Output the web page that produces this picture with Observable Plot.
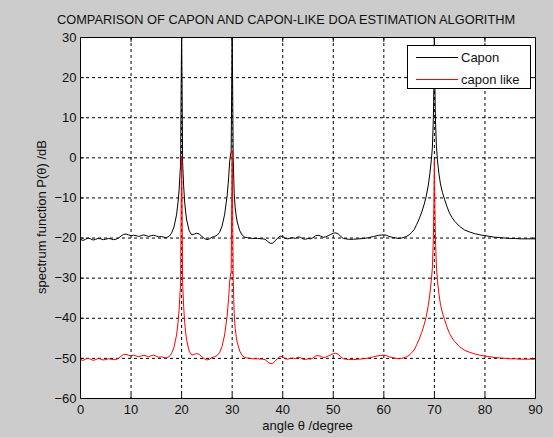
<!DOCTYPE html>
<html><head><meta charset="utf-8">
<script src="https://cdn.jsdelivr.net/npm/d3@7"></script>
<script src="https://cdn.jsdelivr.net/npm/@observablehq/plot@0.6"></script>
<style>
html,body{margin:0;padding:0;background:#cccccc;}
#wrap{position:relative;width:553px;height:437px;overflow:hidden;font-family:"Liberation Sans",Arial,Helvetica,sans-serif;color:#111;}
#chart{position:absolute;left:0;top:0;}
#title{position:absolute;left:57px;top:12px;font-size:12.8px;white-space:nowrap;}
#xlabel{position:absolute;left:80px;width:455px;top:418px;text-align:center;font-size:13px;white-space:nowrap;}
#ylabel{position:absolute;left:41px;top:217px;font-size:13px;white-space:nowrap;transform:translate(-50%,-50%) rotate(-90deg);}
#legend{position:absolute;left:407px;top:45px;width:124px;height:44px;background:#fff;border:1px solid #000;box-sizing:border-box;font-size:13px;}
.li{position:absolute;left:0;height:15px;line-height:15px;}
.li span.sw{position:absolute;left:8px;top:7px;width:42px;height:0;border-top:1px solid;}
.li span.tx{position:absolute;left:53px;top:0;white-space:nowrap;}
</style>
</head><body>
<div id="wrap">
<div id="chart"></div>
<div id="title">COMPARISON OF CAPON AND CAPON-LIKE DOA ESTIMATION ALGORITHM</div>
<div id="xlabel">angle θ /degree</div>
<div id="ylabel">spectrum function P(θ) /dB</div>
<div id="legend"></div>
</div>
<script>
const xTicks = [0,10,20,30,40,50,60,70,80,90];
const yTicks = [-60,-50,-40,-30,-20,-10,0,10,20,30];
const seriesNames = ["Capon","capon like"];
const seriesColors = ["#000000","#ff0000"];

const angles = [0,0.5,1,1.5,2,2.5,3,3.5,4,4.5,5,5.5,6,6.5,7,7.5,8,8.5,9,9.5,10,10.5,11,11.5,12,12.5,13,13.5,14,14.5,15,15.5,16,16.5,17,17.5,18,18.5,19,19.3,19.5,19.7,19.8,19.9,20,20.1,20.2,20.4,20.6,20.8,21,21.5,22,22.5,23,23.5,24,24.5,25,25.5,26,26.5,27,27.5,28,28.5,29,29.3,29.5,29.7,29.8,29.9,30,30.1,30.2,30.4,30.6,30.8,31,31.5,32,32.5,33,33.5,34,35,36,36.5,37,37.5,38,38.5,39,39.5,40,40.5,41,41.5,42,42.5,43,43.5,44,44.5,45,45.5,46,46.5,47,47.5,48,48.5,49,49.5,50,50.5,51,51.5,52,53,54,55,56,57,58,59,60,60.5,61,62,63,63.5,64,64.5,65,65.5,66,66.5,67,67.5,68,68.4,68.8,69.1,69.4,69.6,69.8,69.9,70,70.1,70.2,70.4,70.6,70.9,71.2,71.6,72,72.5,73,73.5,74,75,76,77,78,79,80,81,82,83,84,85,86,87,88,89,90];

const capon = [-20.3,-20.6,-20.3,-20.0,-20.2,-20.5,-20.3,-20.1,-20.2,-20.4,-20.3,-20.1,-20.2,-20.4,-20.3,-20.0,-19.5,-19.1,-19.0,-19.2,-19.4,-19.3,-19.4,-19.6,-19.4,-19.2,-19.4,-19.6,-19.4,-19.3,-19.5,-19.7,-19.6,-19.8,-19.9,-19.6,-18.8,-17.2,-14.2,-11,-8,-3.5,-2,16.5,31,16.5,-1,-7,-11,-13.5,-15.5,-18.2,-19.2,-19.0,-18.8,-19.0,-19.6,-20.1,-20.4,-20.2,-19.8,-19.6,-19.3,-18.6,-17.0,-14.2,-9.5,-5,-1,1,1.5,16.5,32,16.5,0,-9,-12.5,-14.5,-16,-18.2,-19.3,-19.8,-19.9,-20.0,-20.1,-20.1,-20.2,-20.3,-20.8,-21.3,-21.3,-20.7,-20.0,-19.5,-19.6,-20.1,-20.2,-20.0,-19.9,-20.1,-19.7,-19.8,-20.2,-20.3,-20.1,-20.2,-19.9,-19.4,-19.3,-19.5,-19.8,-19.7,-19.4,-19.1,-18.8,-18.7,-19.0,-19.6,-20.1,-20.3,-20.3,-20.2,-20.1,-19.9,-19.6,-19.3,-19.2,-19.3,-19.6,-19.9,-20.1,-20.0,-19.8,-19.6,-19.2,-18.6,-17.9,-16.6,-15.2,-13.5,-11.5,-9.5,-6.8,-4,-0.5,2.5,10,18,31,18,10,3,-0.5,-4,-6.5,-8.7,-10.3,-12.2,-13.8,-14.9,-15.8,-17.1,-18,-18.5,-18.9,-19.2,-19.4,-19.6,-19.8,-19.9,-20.0,-20.1,-20.1,-20.2,-20.2,-20.2,-20.2];

const caponLike = [-50.3,-50.5,-50.2,-50.0,-50.2,-50.5,-50.3,-50.0,-50.2,-50.4,-50.3,-50.1,-50.2,-50.3,-50.3,-50.0,-49.5,-49.0,-49.0,-49.2,-49.4,-49.2,-49.4,-49.6,-49.4,-49.2,-49.4,-49.6,-49.3,-49.2,-49.5,-49.7,-49.6,-49.8,-49.9,-49.6,-48.8,-47.2,-44.2,-41,-38,-33.5,-32,-13.5,0.5,-13.5,-31,-37,-41,-43.5,-45.5,-48.2,-49.2,-49.0,-48.8,-49.0,-49.6,-50.1,-50.4,-50.2,-49.8,-49.6,-49.3,-48.6,-47.0,-44.2,-39.5,-35,-31,-29,-28.5,-13.5,2,-13.5,-30,-39,-42.5,-44.5,-46,-48.2,-49.3,-49.8,-49.9,-50.0,-50.1,-50.1,-50.2,-50.3,-50.8,-51.3,-51.3,-50.7,-50.0,-49.5,-49.6,-50.1,-50.2,-50.0,-49.9,-50.1,-49.7,-49.8,-50.2,-50.3,-50.1,-50.2,-49.9,-49.4,-49.3,-49.5,-49.8,-49.7,-49.4,-49.1,-48.8,-48.7,-49.0,-49.6,-50.1,-50.3,-50.3,-50.2,-50.1,-49.9,-49.6,-49.3,-49.2,-49.3,-49.6,-49.9,-50.1,-50.0,-49.8,-49.6,-49.2,-48.6,-47.9,-46.6,-45.2,-43.5,-41.5,-39.5,-36.8,-34,-30.5,-27.5,-20,-12,-0.5,-12,-20,-27,-30.5,-34,-36.5,-38.7,-40.3,-42.2,-43.8,-44.9,-45.8,-47.1,-48,-48.5,-48.9,-49.2,-49.4,-49.6,-49.8,-49.9,-50.0,-50.1,-50.1,-50.2,-50.2,-50.2,-50.2];

const rows = [];
[capon, caponLike].forEach((vals, k) => {
  angles.forEach((a, i) => rows.push({angle: a, value: vals[i], series: seriesNames[k]}));
});

const chart = Plot.plot({
  width: 553,
  height: 437,
  marginLeft: 80,
  marginRight: 18,
  marginTop: 37,
  marginBottom: 39,
  style: {background: "transparent", fontFamily: "'Liberation Sans', Arial, sans-serif", fontSize: "13px", color: "#111", overflow: "visible"},
  x: {domain: [0, 90], ticks: xTicks, label: null},
  y: {domain: [-60, 30], ticks: yTicks, label: null},
  color: {domain: seriesNames, range: seriesColors},
  marks: [
    Plot.frame({fill: "white"}),
    Plot.gridX(xTicks.slice(1, -1), {stroke: "black", strokeOpacity: 1, strokeDasharray: "3,3"}),
    Plot.gridY(yTicks.slice(1, -1), {stroke: "black", strokeOpacity: 1, strokeDasharray: "3,3"}),
    Plot.line(rows.filter(d => d.series === seriesNames[0]), {x: "angle", y: "value", stroke: "series", strokeWidth: 1, clip: true}),
    Plot.line(rows.filter(d => d.series === seriesNames[1]), {x: "angle", y: "value", stroke: "series", strokeWidth: 1, clip: true}),
    Plot.frame({stroke: "black", strokeWidth: 1}),
    Plot.axisX(xTicks, {anchor: "bottom", tickSize: 0, tickPadding: 6, fontSize: 13}),
    Plot.axisY(yTicks, {anchor: "left", tickSize: 0, tickPadding: 4, fontSize: 13}),
    Plot.axisX(xTicks, {anchor: "bottom", tickSize: -4, tickFormat: () => "", label: null}),
    Plot.axisX(xTicks, {anchor: "top", tickSize: -4, tickFormat: () => "", label: null}),
    Plot.axisY(yTicks, {anchor: "left", tickSize: -4, tickFormat: () => "", label: null}),
    Plot.axisY(yTicks, {anchor: "right", tickSize: -4, tickFormat: () => "", label: null})
  ]
});
document.getElementById("chart").appendChild(chart);

const legend = document.getElementById("legend");
seriesNames.forEach((name, i) => {
  const item = document.createElement("div");
  item.className = "li";
  item.style.top = (4 + i * 21.5) + "px";
  item.style.width = "100%";
  const sw = document.createElement("span");
  sw.className = "sw";
  sw.style.borderTopColor = seriesColors[i];
  const tx = document.createElement("span");
  tx.className = "tx";
  tx.textContent = name;
  item.appendChild(sw);
  item.appendChild(tx);
  legend.appendChild(item);
});
</script>
</body></html>
